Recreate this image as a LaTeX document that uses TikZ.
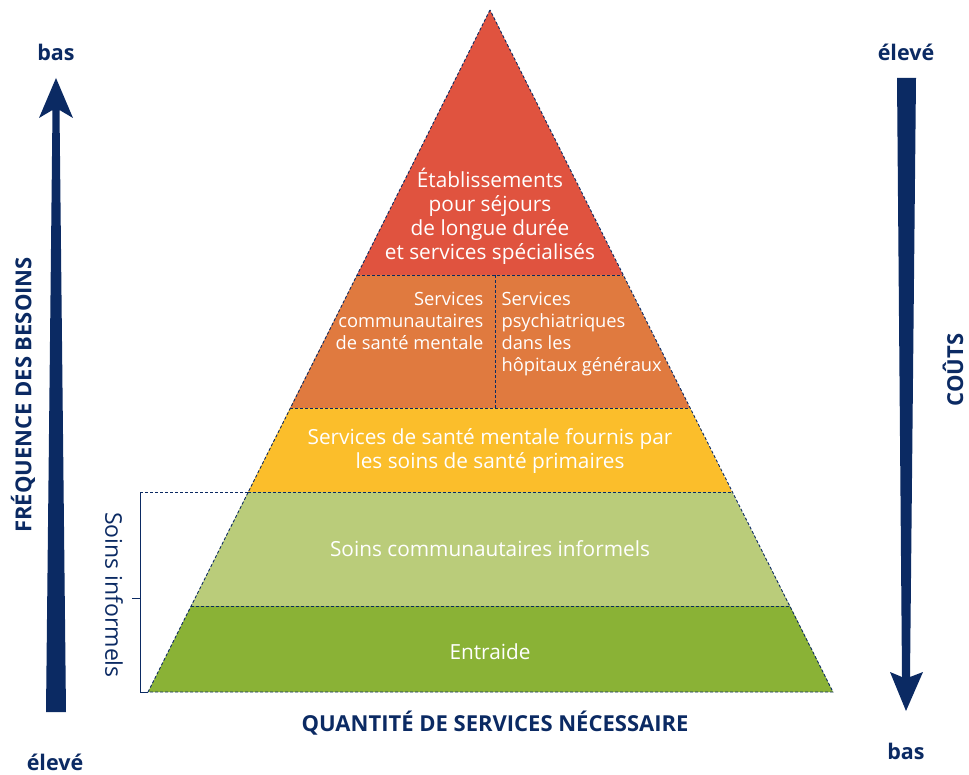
\documentclass[tikz,border=0pt]{standalone}
\usepackage{fontspec}
\setmainfont{Open Sans}
\usetikzlibrary{positioning}
\definecolor{navy}{HTML}{0B2A63}
\definecolor{layerA}{HTML}{E0533F}
\definecolor{layerB}{HTML}{E07A3F}
\definecolor{layerC}{HTML}{FBBE2B}
\definecolor{layerD}{HTML}{BACC7A}
\definecolor{layerE}{HTML}{8AB236}
\newcommand{\lyA}{275}
\newcommand{\lyB}{408}
\newcommand{\lyC}{492}
\newcommand{\lyD}{606}
\newcommand{\lyE}{692}

\begin{document}
\begin{tikzpicture}[x=1pt, y=-1pt,
		edge/.style={draw=navy, dash pattern=on 3pt off 2pt, line width=0.9pt},
		layertext/.style={text=white, font=\fontsize{20.8}{24}\selectfont},
		sidetext/.style={text=white, font=\fontsize{18.3}{22}\selectfont},
		axislabel/.style={text=navy, font=\fontsize{22}{26}\selectfont\bfseries},
		endlabel/.style={text=navy, font=\fontsize{21.5}{26}\selectfont\bfseries}]
		\useasboundingbox (0, 0) rectangle (969, 775);
		
		% Layers
		\fill [layerA] (490, 10) -- (357, \lyA) -- (623, \lyA) -- cycle;
		\fill [layerB] (357, \lyA) -- (623, \lyA) -- (690, \lyB) -- (290, \lyB) -- cycle;
		\fill [layerC] (290, \lyB) -- (690, \lyB) -- (732, \lyC) -- (248, \lyC) -- cycle;
		\fill [layerD] (248, \lyC) -- (732, \lyC) -- (790, \lyD) -- (191, \lyD) -- cycle;
		\fill [layerE] (191, \lyD) -- (790, \lyD) -- (833, \lyE) -- (148, \lyE) -- cycle;
		% Outline
		\draw [edge] (490, 10) -- (148, \lyE) -- (833, \lyE) -- cycle;
		\draw [edge] (357, \lyA) -- (623, \lyA);
		\draw [edge] (290, \lyB) -- (690, \lyB);
		\draw [edge] (248, \lyC) -- (732, \lyC);
		\draw [edge] (191, \lyD) -- (790, \lyD);
		\draw [edge] (495, \lyA) -- (495, \lyB);
		
		% Texts
		\node [layertext, align=center] (longstay) at (490, 216) {Établissements\\pour séjours\\de longue durée\\et services spécialisés};
		\node [sidetext, align=right, anchor=north east] (community) at (487, 289) {Services\\communautaires\\de santé mentale};
		\node [sidetext, align=left, anchor=north west] (psych) at (498, 289) {Services\\psychiatriques\\dans les\\hôpitaux généraux};
		\node [layertext, align=center] (primary) at (490, 451) {Services de santé mentale fournis par\\les soins de santé primaires};
		\node [layertext] (informal) at (490, 549) {Soins communautaires informels};
		\node [layertext] (selfhelp) at (490, 652) {Entraide};
		
		% Bracket
		\draw [navy, line width=0.9pt] (148, \lyE) -- (140, \lyE) -- (140, \lyC);
		\draw [edge] (140, \lyC) -- (248, \lyC);
		\draw [navy, line width=0.9pt] (140, 598) -- (132, 598);
		\node [text=navy, font=\fontsize{23}{26}\selectfont, rotate=-90] (informels) at (114, 595) {Soins informels};
		
		% Arrows
		\fill [navy] (56, 78) -- (73, 118) -- (59.5, 110) -- (66, 712) -- (46, 712) -- (52.5, 110) -- (39, 118) -- cycle;
		\fill [navy] (906, 711) -- (923, 672) -- (910, 677) -- (916, 78) -- (897, 78) -- (902, 677) -- (890, 672) -- cycle;
		
		% Labels
		\node [endlabel] (lowA) at (56, 52) {bas};
		\node [endlabel] (highA) at (55, 762) {élevé};
		\node [endlabel] (highB) at (906, 52) {élevé};
		\node [endlabel] (lowB) at (906, 751) {bas};
		\node [axislabel, rotate=90] (frequency) at (23, 395) {FRÉQUENCE DES BESOINS};
		\node [axislabel, rotate=90] (cost) at (953, 370) {COÛTS};
		\node [axislabel] (quantity) at (495, 723) {QUANTITÉ DE SERVICES NÉCESSAIRE};
	\end{tikzpicture}
\end{document}
